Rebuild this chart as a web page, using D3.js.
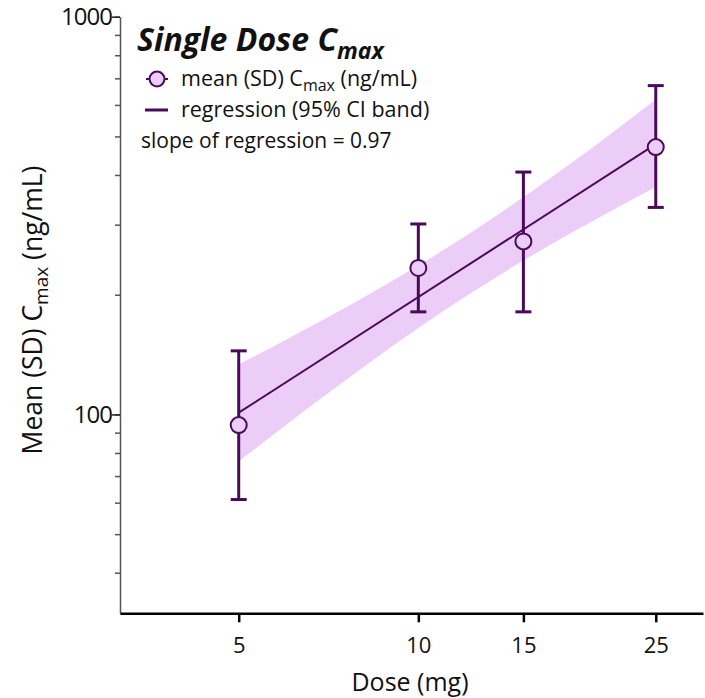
<!DOCTYPE html>
<html>
<head>
<meta charset="utf-8">
<script src="https://cdn.jsdelivr.net/npm/d3@7"></script>
<style>
  body { margin: 0; background: #fff; }
  text { font-family: "Open Sans", sans-serif; fill: #111; }
</style>
</head>
<body>
<div id="chart"></div>
<script>
// data
var doses = [5, 10, 15, 25];
var meanCmax = [94.0, 233.5, 272.3, 470];
var sdUpper = [144.5, 301.2, 406.8, 671];
var sdLower = [61.1, 181.1, 181.1, 331.5];

var regDose = [5, 25];
var regCmax = [101, 478];

var bandDose = [5, 6, 7, 8, 10, 12, 15, 18, 21, 25];
var bandUpper = [133.6, 154.0, 174.4, 194.9, 236.8, 280.8, 351.8, 427.5, 507.4, 619.4];
var bandLower = [76.2, 94.0, 112.1, 129.9, 164.9, 197.9, 243.7, 285.4, 324.3, 373.2];

var xTickValues = [5, 10, 15, 25];
var yLabelTicks = [100, 1000];

var width = 705, height = 698;
var dark = "#4a0a5a", light = "#eccdf7";

var svg = d3.select("#chart")
  .append("svg")
  .attr("width", width)
  .attr("height", height);

// log scales both ways
var x = d3.scaleLog().domain([Math.sqrt(10), 30]).range([120, 703]);
var y = d3.scaleLog().domain([Math.sqrt(10) * 10, 1000]).range([613.3, 16.7]);

// CI band
var band = d3.area()
  .x(function(d, i) { return x(bandDose[i]); })
  .y0(function(d, i) { return y(bandLower[i]); })
  .y1(function(d, i) { return y(bandUpper[i]); })
  .curve(d3.curveMonotoneX);

svg.append("path")
  .datum(bandDose)
  .attr("d", band)
  .attr("fill", light);

// regression line
var line = d3.line()
  .x(function(d, i) { return x(regDose[i]); })
  .y(function(d, i) { return y(regCmax[i]); });

svg.append("path")
  .datum(regDose)
  .attr("d", line)
  .attr("fill", "none")
  .attr("stroke", dark)
  .attr("stroke-width", 2);

// error bars
var eb = svg.selectAll("g.eb")
  .data(doses)
  .enter().append("g")
  .attr("class", "eb");

eb.append("line")
  .attr("x1", function(d) { return x(d); })
  .attr("x2", function(d) { return x(d); })
  .attr("y1", function(d, i) { return y(sdUpper[i]); })
  .attr("y2", function(d, i) { return y(sdLower[i]); })
  .attr("stroke", dark)
  .attr("stroke-width", 3);

eb.append("line")
  .attr("x1", function(d) { return x(d) - 8; })
  .attr("x2", function(d) { return x(d) + 8; })
  .attr("y1", function(d, i) { return y(sdUpper[i]); })
  .attr("y2", function(d, i) { return y(sdUpper[i]); })
  .attr("stroke", dark)
  .attr("stroke-width", 3);

eb.append("line")
  .attr("x1", function(d) { return x(d) - 8; })
  .attr("x2", function(d) { return x(d) + 8; })
  .attr("y1", function(d, i) { return y(sdLower[i]); })
  .attr("y2", function(d, i) { return y(sdLower[i]); })
  .attr("stroke", dark)
  .attr("stroke-width", 3);

eb.append("circle")
  .attr("cx", function(d) { return x(d); })
  .attr("cy", function(d, i) { return y(meanCmax[i]); })
  .attr("r", 8)
  .attr("fill", light)
  .attr("stroke", dark)
  .attr("stroke-width", 2);

// y axis: minor ticks, then labelled ticks
var yMinor = svg.append("g")
  .attr("transform", "translate(120,0)")
  .call(d3.axisLeft(y).tickValues(y.ticks()).tickSize(5).tickSizeOuter(0).tickFormat(""));
yMinor.select(".domain").attr("stroke", "#555").attr("stroke-width", 1.5);
yMinor.selectAll(".tick line").attr("stroke", "#555").attr("stroke-width", 1.5);

var yMajor = svg.append("g")
  .attr("transform", "translate(120,0)")
  .call(d3.axisLeft(y).tickValues(yLabelTicks).tickSize(8).tickFormat(d3.format("d")));
yMajor.select(".domain").remove();
yMajor.selectAll(".tick line").attr("stroke", "#222").attr("stroke-width", 1.5);
yMajor.selectAll(".tick text")
  .attr("x", -8)
  .style("font-size", "24px")
  .style("letter-spacing", "-1px")
  .attr("fill", "#111");

// x axis
var xAxis = svg.append("g")
  .attr("transform", "translate(0,613.3)")
  .call(d3.axisBottom(x).tickValues(xTickValues).tickSize(9).tickSizeOuter(0).tickFormat(d3.format("d")));
xAxis.select(".domain").attr("stroke", "#000").attr("stroke-width", 2.5);
xAxis.selectAll(".tick line").attr("stroke", "#000").attr("stroke-width", 2.5);
xAxis.selectAll(".tick text")
  .attr("y", 24)
  .style("font-size", "22px")
  .attr("fill", "#111");

// axis titles
svg.append("text")
  .attr("x", 410)
  .attr("y", 691)
  .attr("text-anchor", "middle")
  .style("font-size", "25px")
  .text("Dose (mg)");

var yt = svg.append("text")
  .attr("transform", "translate(42,310) rotate(-90)")
  .attr("text-anchor", "middle")
  .style("font-size", "26.5px");
yt.append("tspan").text("Mean (SD) C");
yt.append("tspan").attr("dy", 6).style("font-size", "19px").text("max");
yt.append("tspan").attr("dy", -6).text(" (ng/mL)");

// title
var title = svg.append("text")
  .attr("x", 137)
  .attr("y", 51)
  .style("font-size", "32px")
  .style("font-weight", "bold")
  .style("font-style", "italic");
title.append("tspan").text("Single Dose C");
title.append("tspan").attr("dy", 8).style("font-size", "23px").text("max");

// legend
svg.append("line")
  .attr("x1", 146).attr("x2", 168)
  .attr("y1", 79).attr("y2", 79)
  .attr("stroke", dark).attr("stroke-width", 2);
svg.append("circle")
  .attr("cx", 157).attr("cy", 79).attr("r", 7.5)
  .attr("fill", light).attr("stroke", dark).attr("stroke-width", 2);

var l1 = svg.append("text")
  .attr("x", 181).attr("y", 86)
  .style("font-size", "21.5px");
l1.append("tspan").text("mean (SD) C");
l1.append("tspan").attr("dy", 5).style("font-size", "16px").text("max");
l1.append("tspan").attr("dy", -5).text(" (ng/mL)");

svg.append("line")
  .attr("x1", 145).attr("x2", 168)
  .attr("y1", 110).attr("y2", 110)
  .attr("stroke", dark).attr("stroke-width", 3);
svg.append("text")
  .attr("x", 181).attr("y", 117)
  .style("font-size", "21.5px")
  .text("regression (95% CI band)");

svg.append("text")
  .attr("x", 141).attr("y", 148)
  .style("font-size", "21px")
  .text("slope of regression = 0.97");
</script>
</body>
</html>
